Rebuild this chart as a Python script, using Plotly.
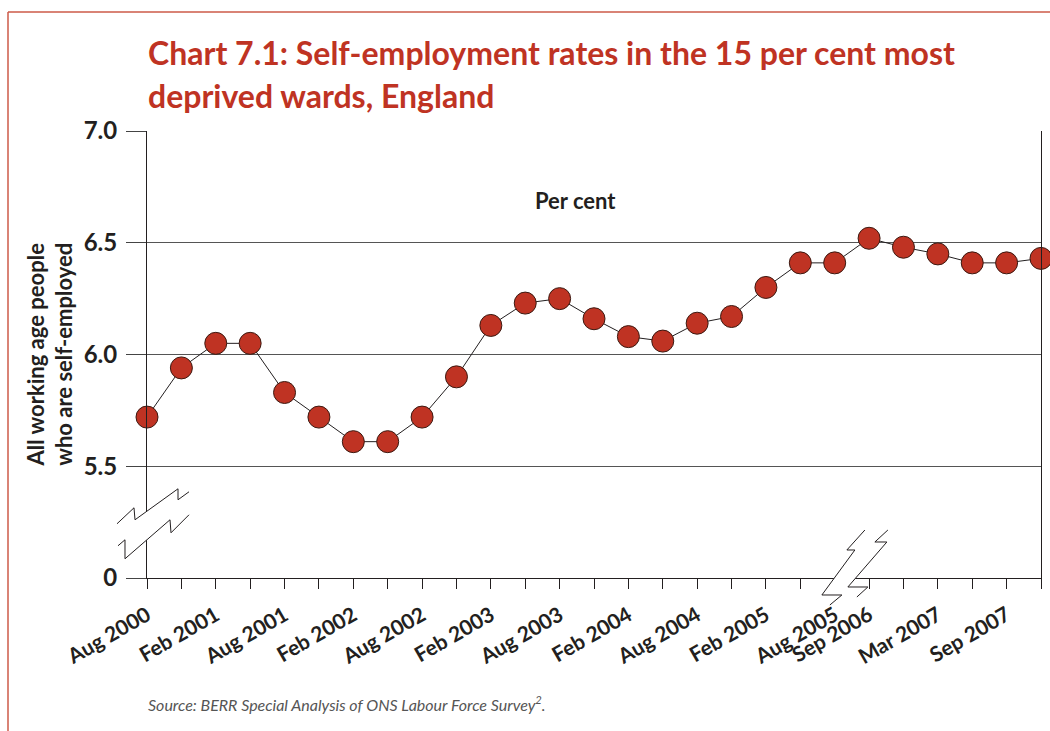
import plotly.graph_objects as go

# Quarterly observations (Aug 2000 - Aug 2005, then Sep 2006 - Dec 2007)
periods = [
    "Aug 2000", "Nov 2000", "Feb 2001", "May 2001", "Aug 2001", "Nov 2001",
    "Feb 2002", "May 2002", "Aug 2002", "Nov 2002", "Feb 2003", "May 2003",
    "Aug 2003", "Nov 2003", "Feb 2004", "May 2004", "Aug 2004", "Nov 2004",
    "Feb 2005", "May 2005", "Aug 2005", "Sep 2006", "Dec 2006", "Mar 2007",
    "Jun 2007", "Sep 2007", "Dec 2007",
]
rates = [
    5.72, 5.94, 6.05, 6.05, 5.83, 5.72,
    5.61, 5.61, 5.72, 5.90, 6.13, 6.23,
    6.25, 6.16, 6.08, 6.06, 6.14, 6.17,
    6.30, 6.41, 6.41, 6.52, 6.48, 6.45,
    6.41, 6.41, 6.43,
]
labelled = [
    "Aug 2000", "Feb 2001", "Aug 2001", "Feb 2002", "Aug 2002", "Feb 2003",
    "Aug 2003", "Feb 2004", "Aug 2004", "Feb 2005", "Aug 2005", "Sep 2006",
    "Mar 2007", "Sep 2007",
]
# broken y axis: the bottom of the scale stands for zero
y_tick_vals = [5.0, 5.5, 6.0, 6.5, 7.0]
y_tick_text = ["0", "5.5", "6.0", "6.5", "7.0"]

RED = "#bf3323"
INK = "#231f20"
FONT = "Lato"

W, H = 1050, 731
ML, MR, MT, MB = 147, 9, 131, 153
PW, PH = W - ML - MR, H - MT - MB

xs = list(range(len(periods)))
x_range = [0, len(periods) - 1]
y_range = [5.0, 7.0]


def paper_x(px):
    return (px - ML) / PW


def paper_y(py):
    return (H - MB - py) / PH


def to_px(xd, yd):
    px = ML + (xd - x_range[0]) / (x_range[1] - x_range[0]) * PW
    py = MT + (y_range[1] - yd) / (y_range[1] - y_range[0]) * PH
    return px, py


def path_from(points, close=False):
    parts = []
    for i, (px, py) in enumerate(points):
        parts.append(("M" if i == 0 else "L") + f"{paper_x(px):.5f},{paper_y(py):.5f}")
    return " ".join(parts) + (" Z" if close else "")


fig = go.Figure()
fig.add_trace(go.Scatter(
    x=xs, y=rates, mode="lines+markers",
    line=dict(color=INK, width=1),
    marker=dict(size=22, color=RED, line=dict(color="#3b1a12", width=1)),
    cliponaxis=False, showlegend=False, hoverinfo="skip",
))

shapes = []


def add_break(a, b):
    # white gap between the two zigzags, then the zigzags themselves
    shapes.append(dict(type="path", xref="paper", yref="paper",
                       path=path_from(a + b[::-1], close=True),
                       fillcolor="white", line=dict(width=0), layer="above"))
    for zz in (a, b):
        shapes.append(dict(type="path", xref="paper", yref="paper", path=path_from(zz),
                           line=dict(color=INK, width=1), layer="above"))


# break symbol on the value axis (offsets in pixels around the axis line)
ax_px, axis_py = to_px(0, 5.0)
_, brk_py = to_px(0, 5.256)


def yb(dx, dy):
    return (ax_px + dx, brk_py + dy)


top_zz = [yb(-30, 3), yb(-13, -13), yb(-12, -1), yb(31, -32), yb(31, -21), yb(42, -29)]
bot_zz = [yb(-29, 25), yb(-22, 19), yb(-22, 38), yb(23, -1), yb(24, 12), yb(42, -6)]
add_break(top_zz, bot_zz)

# break symbol on the time axis between Aug 2005 and Sep 2006
bx_px, _ = to_px(20.5, 5.0)


def xb(dx, dy):
    return (bx_px + dx, axis_py + dy)


left_zz = [xb(13, -48), xb(-5, -28), xb(3, -28), xb(-30, 17), xb(-10, 17), xb(-22, 27)]
right_zz = [xb(36, -48), xb(23, -36), xb(35, -36), xb(-4, 9), xb(16, 9), xb(5, 19)]
add_break(left_zz, right_zz)

# page frame rules in the house colour
shapes.append(dict(type="line", xref="paper", yref="paper",
                   x0=paper_x(8), x1=paper_x(W), y0=paper_y(12), y1=paper_y(12),
                   line=dict(color="#cc5a48", width=1.5)))
shapes.append(dict(type="line", xref="paper", yref="paper",
                   x0=paper_x(8), x1=paper_x(8), y0=paper_y(12), y1=paper_y(H),
                   line=dict(color="#cc5a48", width=1.5)))

annotations = [
    dict(text="Chart 7.1: Self-employment rates in the 15 per cent most",
         xref="paper", yref="paper", x=paper_x(146), y=paper_y(52),
         xanchor="left", yanchor="middle", showarrow=False,
         font=dict(family=FONT, size=32, color=RED, weight="bold")),
    dict(text="deprived wards, England",
         xref="paper", yref="paper", x=paper_x(146), y=paper_y(96),
         xanchor="left", yanchor="middle", showarrow=False,
         font=dict(family=FONT, size=32, color=RED, weight="bold")),
    dict(text="Per cent", xref="paper", yref="paper",
         x=paper_x(575), y=paper_y(200), xanchor="center", yanchor="middle",
         showarrow=False, font=dict(family=FONT, size=22, color=INK, weight="bold")),
    dict(text="All working age people<br>who are self-employed",
         xref="paper", yref="paper", x=paper_x(49), y=0.5, textangle=-90,
         xanchor="center", yanchor="middle", showarrow=False,
         font=dict(family=FONT, size=22, color=INK, weight="bold")),
    dict(text="<i>Source: BERR Special Analysis of ONS Labour Force Survey<sup>2</sup>.</i>",
         xref="paper", yref="paper", x=paper_x(146), y=paper_y(703),
         xanchor="left", yanchor="middle", showarrow=False,
         font=dict(family=FONT, size=16, color="#555555", weight="normal")),
]

label_idx = [periods.index(p) for p in labelled]

fig.update_layout(
    width=W, height=H,
    margin=dict(l=ML, r=MR, t=MT, b=MB),
    paper_bgcolor="white", plot_bgcolor="white",
    font=dict(family=FONT, color=INK),
    shapes=shapes, annotations=annotations,
    showlegend=False,
    xaxis=dict(
        range=x_range, tickmode="array", tickvals=label_idx, ticktext=labelled,
        tickangle=-30, ticks="outside", ticklen=10, tickcolor=INK, tickwidth=1,
        ticklabelstandoff=6,
        minor=dict(tickmode="linear", tick0=0, dtick=1, ticks="outside",
                   ticklen=10, tickcolor=INK, tickwidth=1, showgrid=False),
        showline=True, linecolor=INK, linewidth=1,
        showgrid=False, zeroline=False,
        tickfont=dict(family=FONT, size=21, color=INK, weight="bold"),
    ),
    yaxis=dict(
        range=y_range, tickmode="array", tickvals=y_tick_vals, ticktext=y_tick_text,
        ticks="outside", ticklen=20, tickcolor="#444444", tickwidth=1,
        ticklabelstandoff=4,
        showline=True, linecolor=INK, linewidth=1, mirror=True,
        showgrid=True, gridcolor="#555555", gridwidth=1, zeroline=False,
        tickfont=dict(family=FONT, size=24, color=INK, weight="bold"),
    ),
)

fig.write_html("out.html")
